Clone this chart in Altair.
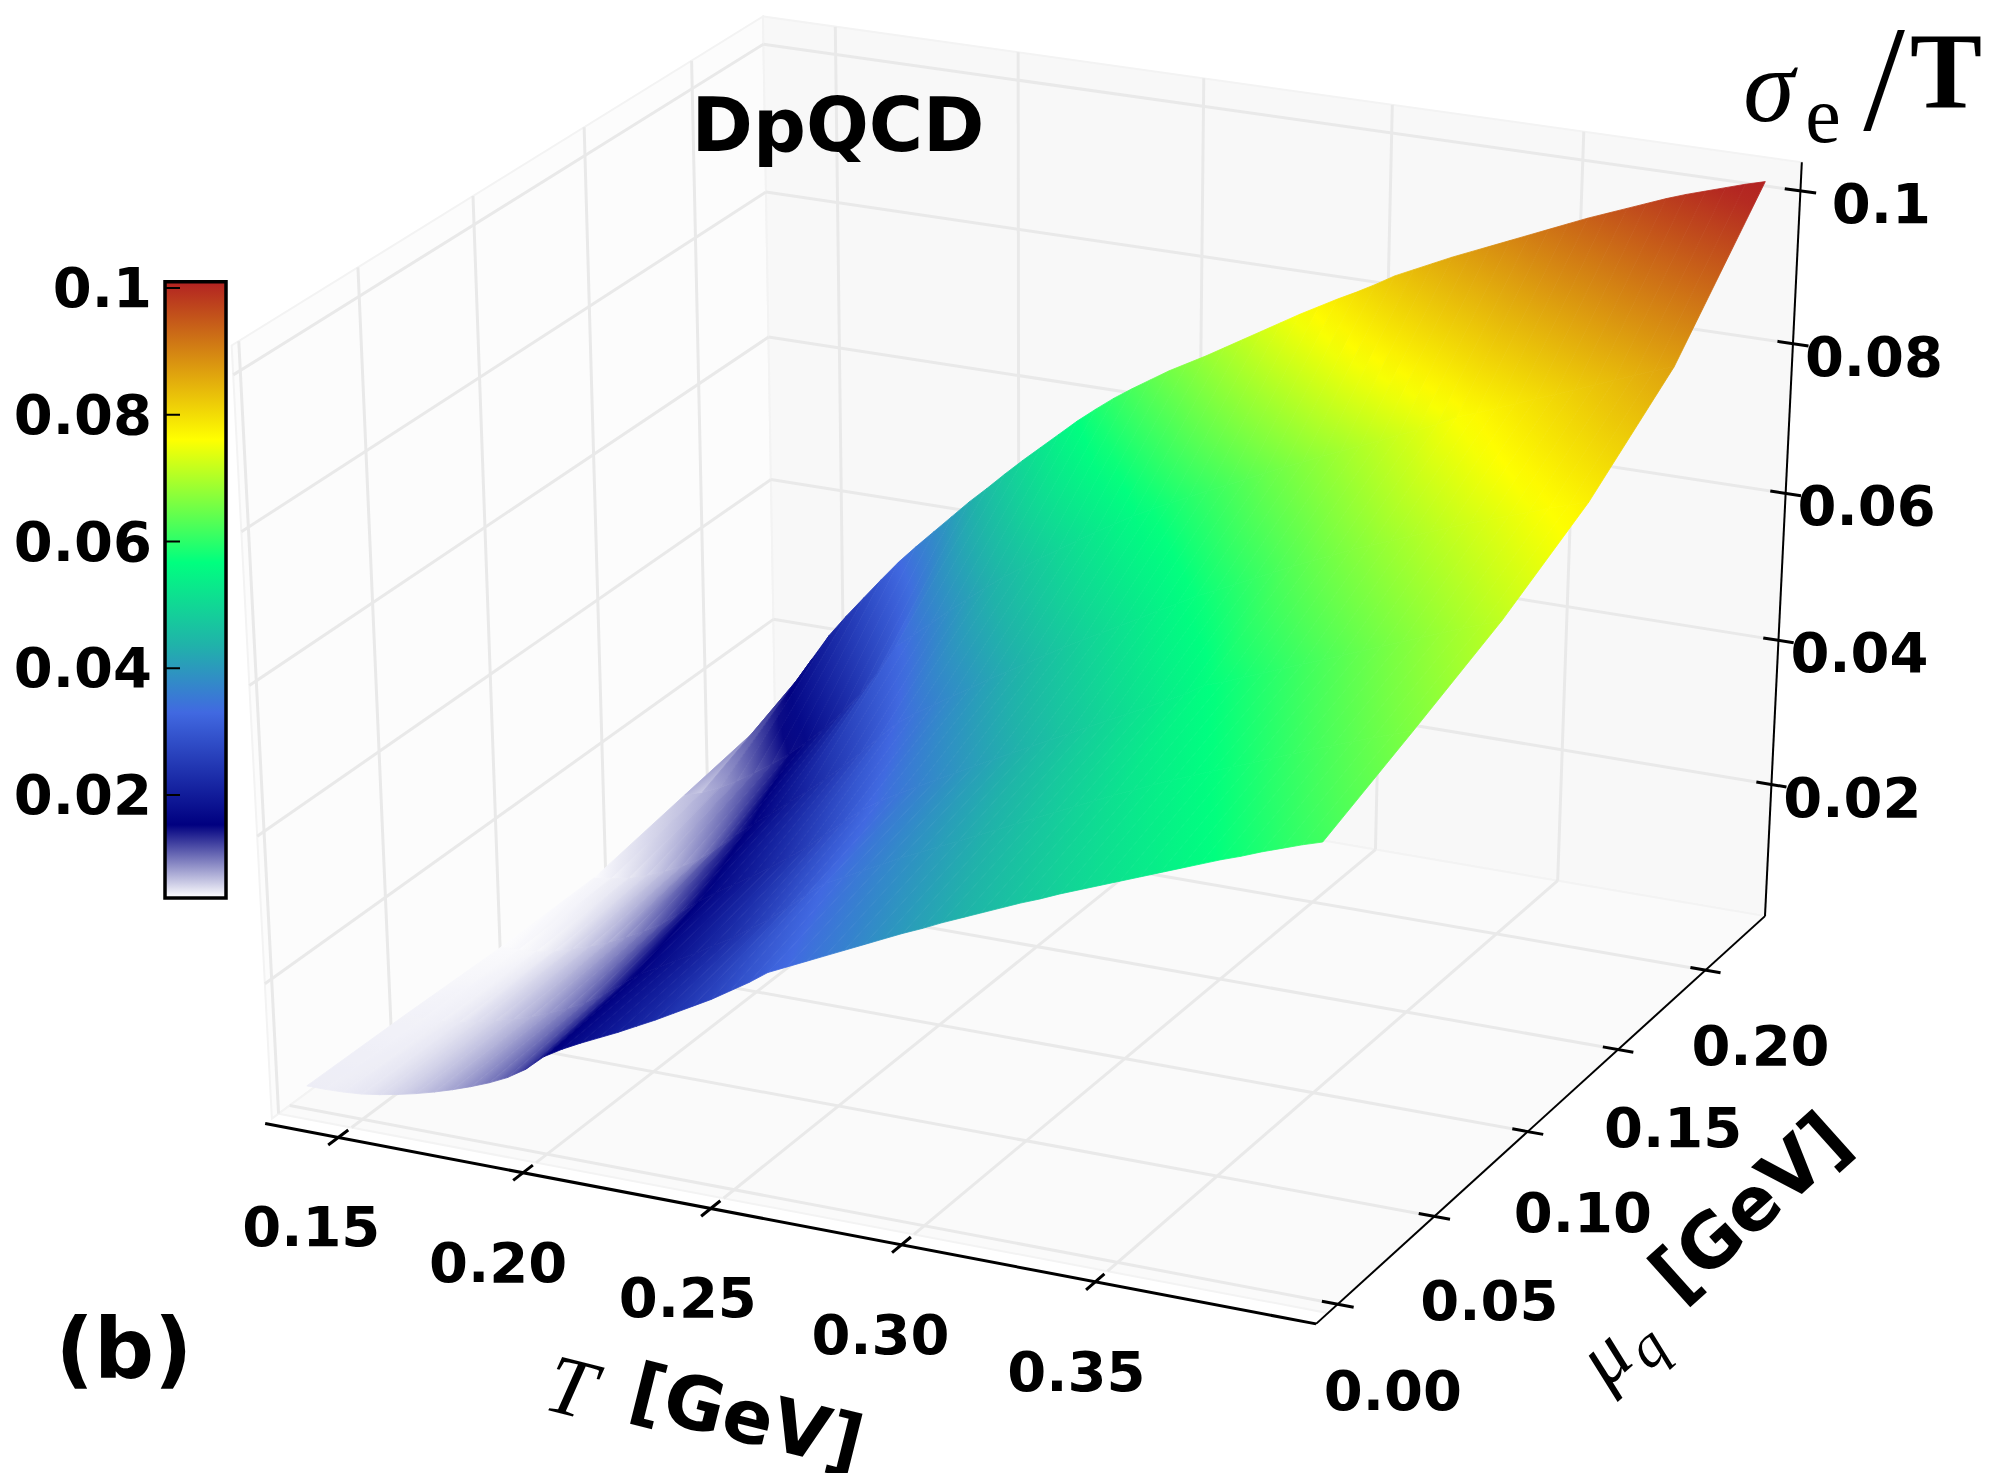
import altair as alt
import numpy as np
import pandas as pd

# sigma_e/T, one row per mu_q, one column per T
T_VALUES = [round(0.135 + 0.005 * i, 3) for i in range(54)]
MU_VALUES = [0.0, 0.045, 0.09, 0.135, 0.18, 0.228]
SIGMA_MU_000 = [.0046, .0046, .0047, .0049, .0053, .0058, .0064, .0071, .0079, .0088, .0098, .0110, .0126, .0148,
                .0163, .0176, .0188, .0200, .0213, .0226, .0240, .0254, .0268, .0284, .0300, .0318, .0330, .0342,
                .0354, .0366, .0378, .0390, .0402, .0413, .0425, .0436, .0447, .0458, .0469, .0479, .0490, .0500,
                .0510, .0520, .0530, .0540, .0550, .0560, .0570, .0579, .0589, .0598, .0607, .0615]
SIGMA_MU_045 = [.0044, .0044, .0045, .0048, .0053, .0059, .0066, .0074, .0084, .0095, .0108, .0124, .0143, .0161,
                .0175, .0189, .0203, .0218, .0233, .0250, .0268, .0288, .0310, .0330, .0343, .0356, .0369, .0382,
                .0394, .0406, .0418, .0430, .0442, .0454, .0466, .0478, .0490, .0502, .0514, .0525, .0536, .0547,
                .0557, .0567, .0577, .0587, .0597, .0607, .0617, .0626, .0636, .0645, .0654, .0663]
SIGMA_MU_090 = [.0040, .0041, .0043, .0048, .0056, .0064, .0074, .0086, .0099, .0114, .0133, .0153, .0170, .0186,
                .0202, .0219, .0237, .0256, .0277, .0299, .0320, .0337, .0351, .0365, .0379, .0392, .0406, .0419,
                .0432, .0445, .0458, .0471, .0484, .0497, .0510, .0523, .0536, .0549, .0565, .0574, .0584, .0594,
                .0604, .0614, .0624, .0634, .0644, .0654, .0664, .0674, .0684, .0694, .0703, .0713]
SIGMA_MU_135 = [.0041, .0045, .0050, .0058, .0068, .0080, .0095, .0115, .0137, .0157, .0176, .0196, .0216, .0237,
                .0259, .0283, .0308, .0332, .0350, .0366, .0382, .0398, .0414, .0429, .0444, .0459, .0474, .0488,
                .0502, .0516, .0530, .0544, .0558, .0572, .0584, .0596, .0608, .0620, .0632, .0644, .0655, .0666,
                .0676, .0686, .0696, .0706, .0716, .0725, .0734, .0743, .0752, .0761, .0769, .0777]
SIGMA_MU_180 = [.0064, .0072, .0083, .0097, .0113, .0130, .0149, .0170, .0194, .0220, .0250, .0285, .0325, .0346,
                .0367, .0388, .0408, .0428, .0447, .0464, .0481, .0497, .0513, .0529, .0544, .0559, .0572, .0585,
                .0597, .0609, .0621, .0633, .0645, .0657, .0668, .0679, .0690, .0701, .0712, .0723, .0734, .0745,
                .0759, .0768, .0778, .0788, .0798, .0808, .0818, .0828, .0838, .0848, .0858, .0867]
SIGMA_MU_225 = [.0088, .0132, .0170, .0208, .0240, .0270, .0300, .0329, .0355, .0380, .0405, .0430, .0453, .0477,
                .0500, .0522, .0544, .0566, .0586, .0605, .0622, .0638, .0654, .0668, .0682, .0697, .0712, .0727,
                .0742, .0757, .0771, .0785, .0798, .0812, .0827, .0839, .0851, .0863, .0874, .0885, .0896, .0907,
                .0918, .0929, .0940, .0950, .0960, .0970, .0980, .0989, .0997, .1005, .1013, .1020]
SIGMA = [SIGMA_MU_000, SIGMA_MU_045, SIGMA_MU_090, SIGMA_MU_135, SIGMA_MU_180, SIGMA_MU_225]

T_TICKS = [0.15, 0.20, 0.25, 0.30, 0.35]
MU_TICKS = [0.00, 0.05, 0.10, 0.15, 0.20]
SIGMA_TICKS = [0.02, 0.04, 0.06, 0.08, 0.1]

COLOR_STOPS = [0.0038, 0.0153, 0.033, 0.0436, 0.0567, 0.0761, 0.101]
COLOR_NAMES = ["#ffffff", "#000080", "#4169e1", "#20b2aa", "#00ff7f", "#ffff00", "#b22222"]

T_LO, T_HI = 0.13, 0.406
MU_LO, MU_HI = -0.005, 0.235
Z_LO, Z_HI = 0.0014, 0.1037

# camera of the 3d box, (T, mu, sigma, 1) -> page pixels
VIEW = np.array([[3516.237, 2276.479, -494.471, -172.597],
                 [507.166, -1251.434, -7547.805, 1027.469],
                 [-0.152, 0.324, -0.477, 1.0]])
W, H = 1979, 1465
BOLD = "DejaVu Sans"
SERIF = "Liberation Serif"


def proj(t, m, z):
    h = VIEW @ np.array([t, m, z, 1.0])
    return float(h[0] / h[2]), float(h[1] / h[2])


def seg(a, b):
    (x, y), (x2, y2) = proj(*a), proj(*b)
    return {"x": x, "y": y, "x2": x2, "y2": y2}


def ring(*pts):
    c = [list(proj(*p)) for p in pts]
    return {"type": "Polygon", "coordinates": [c + [c[0]]]}


def color_at(s):
    rgb = [[int(c[i:i + 2], 16) for i in (1, 3, 5)] for c in COLOR_NAMES]
    return "rgb({:.0f},{:.0f},{:.0f})".format(*[np.interp(s, COLOR_STOPS, [c[k] for c in rgb]) for k in range(3)])


def shade(pts):
    # linear gradient over one cell so the colour runs on between its four corners
    xy = np.array([proj(*p) for p in pts])
    s = np.array([p[2] for p in pts])
    uv = (xy - xy.min(axis=0)) / (xy.max(axis=0) - xy.min(axis=0))
    (b, c, a), *_ = np.linalg.lstsq(np.c_[uv, np.ones(4)], s, rcond=None)
    flat = uv @ np.array([b, c]) + a
    mid = a + 0.5 * (b + c)
    norm = b * b + c * c
    lo, hi = flat.min(), flat.max()
    if norm < 1e-12:
        return {"gradient": "linear", "x1": 0, "y1": 0, "x2": 1, "y2": 0,
                "stops": [{"offset": 0, "color": color_at(s.mean())}, {"offset": 1, "color": color_at(s.mean())}]}
    return {
        "gradient": "linear",
        "x1": float(0.5 + b / norm * (lo - mid)),
        "y1": float(0.5 + c / norm * (lo - mid)),
        "x2": float(0.5 + b / norm * (hi - mid)),
        "y2": float(0.5 + c / norm * (hi - mid)),
        "stops": [{"offset": k / 8, "color": color_at(lo + (hi - lo) * k / 8)} for k in range(9)],
    }


X = alt.X("x:Q", scale=alt.Scale(domain=[8, 8 + W], nice=False, zero=False), axis=None)
Y = alt.Y("y:Q", scale=alt.Scale(domain=[8, 8 + H], nice=False, zero=False, reverse=True), axis=None)


def pane(fill, *pts):
    data = alt.InlineData(values=[{"type": "Feature", "geometry": ring(*pts), "properties": {}}])
    return (
        alt.Chart(data)
        .mark_geoshape(fill=fill, stroke="#f3f3f3", strokeWidth=2)
        .project(type="identity", scale=1, translate=[-8, -8])
    )


def rules(rows, color="black", width=2.0):
    return (
        alt.Chart(pd.DataFrame(rows))
        .mark_rule(color=color, strokeWidth=width)
        .encode(x=X, y=Y, x2=alt.X2("x2"), y2=alt.Y2("y2"))
    )


def text(rows, size, font=BOLD, weight="bold", style="normal", angle=0, align="center"):
    return (
        alt.Chart(pd.DataFrame(rows))
        .mark_text(fontSize=size, font=font, fontWeight=weight, fontStyle=style, angle=angle,
                   align=align, baseline="middle", color="black")
        .encode(x=X, y=Y, text="label:N")
    )


def shifted(label, p, dx, dy):
    return {"label": label, "x": p[0] + dx, "y": p[1] + dy}


WALL_LO = MU_LO - 0.003
panes = [
    pane("#fcfcfc", (T_LO, WALL_LO, Z_LO), (T_LO, MU_HI, Z_LO), (T_LO, MU_HI, Z_HI), (T_LO, WALL_LO, Z_HI)),
    pane("#f8f8f8", (T_LO, MU_HI, Z_LO), (T_HI, MU_HI, Z_LO), (T_HI, MU_HI, Z_HI), (T_LO, MU_HI, Z_HI)),
    pane("#fafafa", (T_LO, MU_LO, Z_LO), (T_HI, MU_LO, Z_LO), (T_HI, MU_HI, Z_LO), (T_LO, MU_HI, Z_LO)),
]

grid_rows = []
for t in T_TICKS:
    grid_rows.append(seg((t, MU_LO, Z_LO), (t, MU_HI, Z_LO)))
    grid_rows.append(seg((t, MU_HI, Z_LO), (t, MU_HI, Z_HI)))
for m in MU_TICKS:
    grid_rows.append(seg((T_LO, m, Z_LO), (T_HI, m, Z_LO)))
    wall = MU_LO + 1.025 * m
    grid_rows.append(seg((T_LO, wall, Z_LO), (T_LO, wall, Z_HI)))
for z in SIGMA_TICKS:
    grid_rows.append(seg((T_LO, WALL_LO, z), (T_LO, MU_HI, z)))
    grid_rows.append(seg((T_LO, MU_HI, z), (T_HI, MU_HI, z)))
grid = rules(grid_rows, color="#e9e9e9", width=3)

cells = []
for i in range(len(MU_VALUES) - 1):
    for j in range(len(T_VALUES) - 1):
        corners = [(T_VALUES[j], MU_VALUES[i], SIGMA[i][j]), (T_VALUES[j + 1], MU_VALUES[i], SIGMA[i][j + 1]),
                   (T_VALUES[j + 1], MU_VALUES[i + 1], SIGMA[i + 1][j + 1]), (T_VALUES[j], MU_VALUES[i + 1], SIGMA[i + 1][j])]
        cells.append({"type": "Feature", "geometry": ring(*corners), "properties": {"g": shade(corners)}})
surface = (
    alt.Chart(alt.InlineData(values=cells))
    .mark_geoshape(strokeWidth=0.8)
    .encode(fill=alt.Fill("properties.g:N", scale=None),
            stroke=alt.Stroke("properties.g:N", scale=None))
    .project(type="identity", scale=1, translate=[-8, -8])
)

# colour bar on the left, one rect with the colour stops as its gradient
BAR_LEFT, BAR_RIGHT = 165, 226
BAR_LO, BAR_HI = 0.00375, 0.101


def bar_y(v):
    return 288 + (0.1 - v) * 6337.5


bar_fill = alt.Gradient(
    gradient="linear", x1=0, y1=1, x2=0, y2=0,
    stops=[alt.GradientStop(color=c, offset=max(0.0, (s - BAR_LO) / (BAR_HI - BAR_LO)))
           for s, c in zip(COLOR_STOPS, COLOR_NAMES)],
)
frame = (
    alt.Chart(pd.DataFrame([{"x": BAR_LEFT, "x2": BAR_RIGHT, "y": bar_y(BAR_HI), "y2": bar_y(BAR_LO)}]))
    .mark_rect(fill=bar_fill, stroke="black", strokeWidth=3.5)
    .encode(x=X, y=Y, x2=alt.X2("x2"), y2=alt.Y2("y2"))
)
bar_ticks = rules([{"x": BAR_LEFT, "x2": BAR_LEFT + 15, "y": bar_y(v), "y2": bar_y(v)} for v in SIGMA_TICKS], width=2)
bar_labels = text([{"label": str(v) if v == 0.1 else f"{v:.2f}", "x": 152, "y": bar_y(v) + 2} for v in SIGMA_TICKS],
                  56, align="right")

MU_AXIS = -0.011
axes = rules([seg((T_LO, MU_AXIS, Z_LO), (T_HI, MU_AXIS, Z_LO))], width=3)
axes2 = rules([seg((T_HI, MU_AXIS, Z_LO), (T_HI, MU_HI, Z_LO)), seg((T_HI, MU_HI, Z_LO), (T_HI, MU_HI, Z_HI))], width=2)
ticks = rules(
    [seg((t, MU_AXIS - 0.0045, Z_LO), (t, MU_AXIS + 0.0045, Z_LO)) for t in T_TICKS]
    + [seg((T_HI - 0.004, m, Z_LO), (T_HI + 0.004, m, Z_LO)) for m in MU_TICKS]
    + [seg((T_HI - 0.004, MU_HI, z), (T_HI + 0.004, MU_HI, z)) for z in SIGMA_TICKS],
    width=3,
)
tick_labels = text(
    [shifted(f"{t:.2f}", proj(t, MU_AXIS, Z_LO), -27 + 40 * (t - 0.15), 92) for t in T_TICKS]
    + [shifted(f"{m:.2f}", proj(T_HI, m, Z_LO), 55, 89 - 55 * m) for m in MU_TICKS]
    + [shifted(str(z) if z == 0.1 else f"{z:.2f}", proj(T_HI, MU_HI, z), 81, 15) for z in SIGMA_TICKS],
    56,
)

labels = [
    text([{"label": "DpQCD", "x": 838, "y": 129}], 74),
    text([{"label": "(b)", "x": 124, "y": 1353}], 84),
    text([{"label": "T", "x": 570, "y": 1390}], 84, font=SERIF, weight="normal", style="italic", angle=14),
    text([{"label": "[GeV]", "x": 746, "y": 1420}], 74, angle=14),
    text([{"label": "\u03bc", "x": 1605, "y": 1358}], 80, font=SERIF, weight="normal", style="italic", angle=318),
    text([{"label": "q", "x": 1648, "y": 1348}], 60, font=SERIF, weight="normal", style="italic", angle=318),
    text([{"label": "[GeV]", "x": 1752, "y": 1209}], 74, angle=318),
    text([{"label": "\u03c3", "x": 1769, "y": 90}], 104, font=SERIF, weight="normal", style="italic"),
    text([{"label": "e", "x": 1823, "y": 118}], 80, font=SERIF, weight="normal"),
    text([{"label": "/", "x": 1884, "y": 85}], 150, font=SERIF, weight="normal"),
    text([{"label": "T", "x": 1946, "y": 75}], 108, font=SERIF),
]

chart = (
    alt.layer(*panes, grid, surface, axes, axes2, ticks, tick_labels, frame, bar_ticks, bar_labels, *labels)
    .properties(width=W, height=H, padding=0, autosize=alt.AutoSizeParams(type="none"))
    .configure_view(stroke=None)
)
chart.save("out.html", embed_options={"renderer": "svg", "actions": False})
